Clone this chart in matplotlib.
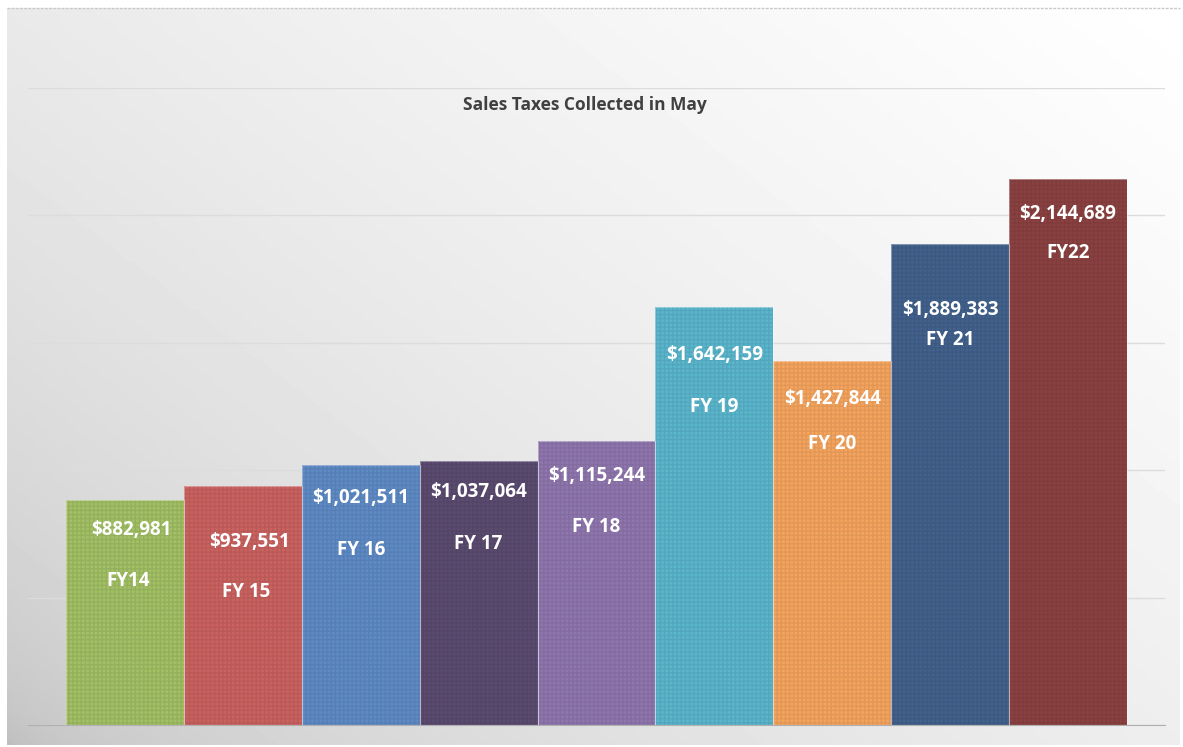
import numpy as np
import matplotlib.pyplot as plt
from matplotlib import transforms

# Data
years = ['FY14', 'FY 15', 'FY 16', 'FY 17', 'FY 18', 'FY 19', 'FY 20', 'FY 21', 'FY22']
sales_tax = [882981, 937551, 1021511, 1037064, 1115244, 1642159, 1427844, 1889383, 2144689]

colors = ['#a2c064', '#ca6260', '#5e8ac5', '#5b4b70', '#8f76ae',
          '#5ab6cd', '#f5a45e', '#42618c', '#8b4141']
# label offsets below bar top, in pixels (value label, year label, x shift)
value_off = [30, 56, 33, 31, 35, 48, 38, 66, 35]
year_off = [81, 106, 85, 83, 86, 100, 83, 96, 74]
x_shift = [6, 7, 0, 0, 0, 0, 0, 0, 0]

plt.rcParams['font.family'] = ['Open Sans', 'DejaVu Sans']

fig = plt.figure(figsize=(11.83, 7.47), dpi=100)

# gradient background for the chart area
bg = fig.add_axes([7/1183, 1 - 745/747, 1173/1183, 737/747])
gx, gy = np.meshgrid(np.linspace(0, 1, 300), np.linspace(1, 0, 200))
g = np.clip(0.55 * gx + 0.45 * gy, 0, 1)
shade = 0.74 + 0.26 * np.sqrt(g)
bg.imshow(shade, cmap='gray', vmin=0, vmax=1.0, aspect='auto', extent=[0, 1, 0, 1])
bg.set_axis_off()
bg.plot([0, 1], [1, 1], color='#c8c8c8', lw=1, ls=(0, (2, 1)), transform=bg.transAxes, clip_on=False)

ax = fig.add_axes([28/1183, 1 - 725/747, 1137/1183, (725 - 88)/747])
ax.patch.set_alpha(0)
x = np.arange(len(years))
ax.bar(x, sales_tax, width=1.0, color=colors, edgecolor='none', zorder=2)
# subtle woven texture over the bars
ax.bar(x, sales_tax, width=1.0, color='none', edgecolor=(0, 0, 0, 0.08),
       hatch='++++', linewidth=0, zorder=3)
ax.bar(x, sales_tax, width=1.0, color='none', edgecolor=(1, 1, 1, 0.35),
       linewidth=0.8, zorder=4)

ax.set_xlim(-0.5 - 0.323, len(years) - 0.5 + 0.323)
ax.set_ylim(0, 2500000)
ax.set_yticks(np.arange(0, 2500001, 500000))
ax.yaxis.grid(True, color='#dcdcdc', lw=1)
ax.set_axisbelow(True)
ax.tick_params(left=False, bottom=False, labelleft=False, labelbottom=False)
for s in ['left', 'right', 'top']:
    ax.spines[s].set_visible(False)
ax.spines['bottom'].set_color('#b0b0b0')

for i, (yr, v) in enumerate(zip(years, sales_tax)):
    off = transforms.offset_copy(ax.transData, fig=fig, x=x_shift[i] * 0.72, y=-value_off[i] * 0.72, units='points')
    ax.text(i, v, f'${v:,.0f}', transform=off, ha='center', va='center',
            color='white', fontsize=13.5, fontweight='bold', zorder=5)
    off2 = transforms.offset_copy(ax.transData, fig=fig, x=x_shift[i] * 0.5 * 0.72, y=-year_off[i] * 0.72, units='points')
    ax.text(i, v, yr, transform=off2, ha='center', va='center',
            color='white', fontsize=13.5, fontweight='bold', zorder=5)

fig.text(585/1183, 1 - 105/747, 'Sales Taxes Collected in May', ha='center', va='center',
         fontsize=12.5, fontweight='bold', color='#404040')

fig.savefig('out.png', dpi=100)
